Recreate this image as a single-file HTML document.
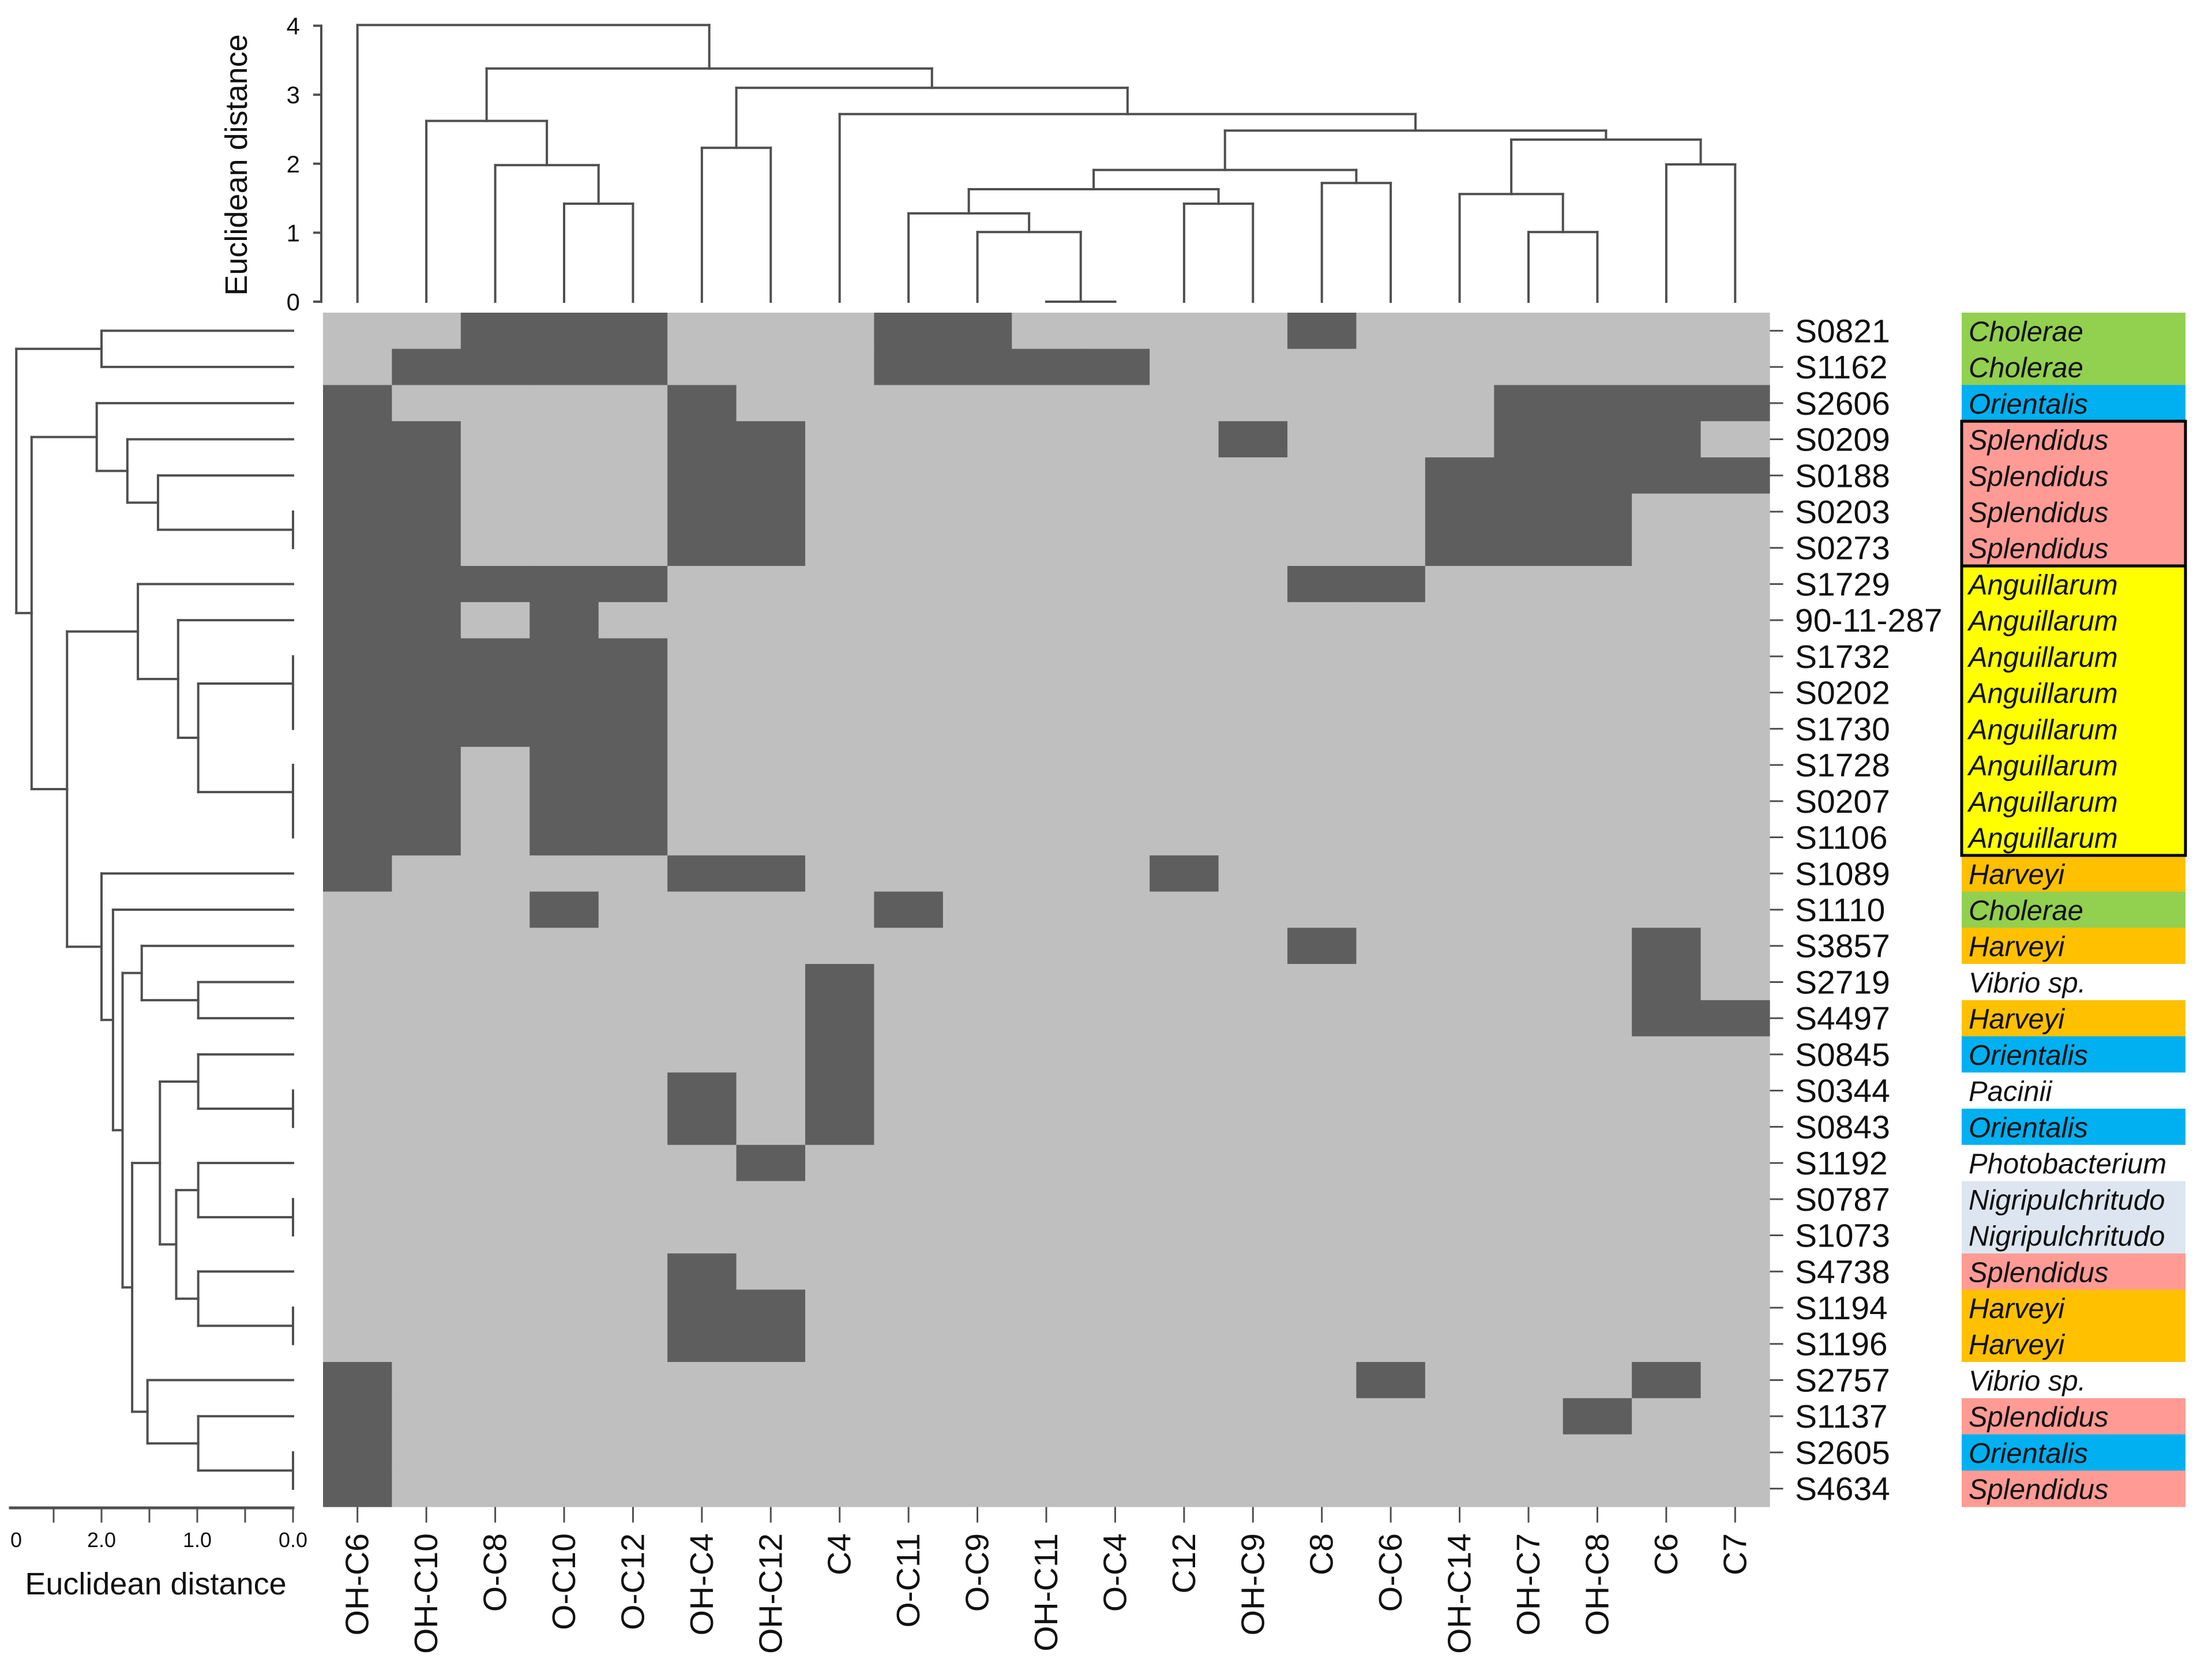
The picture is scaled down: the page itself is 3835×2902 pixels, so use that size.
<!DOCTYPE html>
<html><head><meta charset="utf-8"><title>Heatmap with dendrograms</title>
<style>
html,body{margin:0;padding:0;background:#fff;}
svg{display:block;}
text{font-family:"Liberation Sans",sans-serif;fill:#111;}
</style></head>
<body>
<svg id="chart" width="3835" height="2902" viewBox="0 0 3835 2902" xmlns="http://www.w3.org/2000/svg"></svg>
<script>
const colLabels = ["OH-C6","OH-C10","O-C8","O-C10","O-C12","OH-C4","OH-C12","C4","O-C11","O-C9","OH-C11","O-C4","C12","OH-C9","C8","O-C6","OH-C14","OH-C7","OH-C8","C6","C7"];
const rowLabels = ["S0821","S1162","S2606","S0209","S0188","S0203","S0273","S1729","90-11-287","S1732","S0202","S1730","S1728","S0207","S1106","S1089","S1110","S3857","S2719","S4497","S0845","S0344","S0843","S1192","S0787","S1073","S4738","S1194","S1196","S2757","S1137","S2605","S4634"];
const rowSpecies = ["Cholerae","Cholerae","Orientalis","Splendidus","Splendidus","Splendidus","Splendidus","Anguillarum","Anguillarum","Anguillarum","Anguillarum","Anguillarum","Anguillarum","Anguillarum","Anguillarum","Harveyi","Cholerae","Harveyi","Vibrio sp.","Harveyi","Orientalis","Pacinii","Orientalis","Photobacterium","Nigripulchritudo","Nigripulchritudo","Splendidus","Harveyi","Harveyi","Vibrio sp.","Splendidus","Orientalis","Splendidus"];
const speciesColors = {"Cholerae":"#92d050","Orientalis":"#00b0f0","Splendidus":"#ff9b94","Anguillarum":"#ffff00","Harveyi":"#ffc000","Vibrio sp.":"#ffffff","Pacinii":"#ffffff","Photobacterium":"#ffffff","Nigripulchritudo":"#dde6f0"};
const darkCells = [
[2,3,4,8,9,14],
[1,2,3,4,8,9,10,11],
[0,5,17,18,19,20],
[0,1,5,6,13,17,18,19],
[0,1,5,6,16,17,18,19,20],
[0,1,5,6,16,17,18],
[0,1,5,6,16,17,18],
[0,1,2,3,4,14,15],
[0,1,3],
[0,1,2,3,4],
[0,1,2,3,4],
[0,1,2,3,4],
[0,1,3,4],
[0,1,3,4],
[0,1,3,4],
[0,5,6,12],
[3,8],
[14,19],
[7,19],
[7,19,20],
[7],
[5,7],
[5,7],
[6],
[],
[],
[5],
[5,6],
[5,6],
[0,15,19],
[0,18],
[0],
[0]];
const topTree = [4.01, 0, [3.38, [2.62, 1, [1.98, 2, [1.42, 3, 4]]], [3.10, [2.23, 5, 6], [2.72, 7, [2.48, [1.91, [1.63, [1.28, 8, [1.01, 9, [0, 10, 11]]], [1.42, 12, 13]], [1.72, 14, 15]], [2.35, [1.56, 16, [1.01, 17, 18]], [1.99, 19, 20]]]]]]];
const rowTree = [2.89, [2.0, 0, 1], [2.73, [2.05, 2, [1.73, 3, [1.41, 4, [0, 5, 6]]]], [2.36, [1.62, 7, [1.2, 8, [0.99, [0, 9, [0, 10, 11]], [0, 12, [0, 13, 14]]]]], [2.0, 15, [1.88, 16, [1.78, [1.58, 17, [0.99, 18, 19]], [1.68, [1.39, [0.99, 20, [0, 21, 22]], [1.22, [0.99, 23, [0, 24, 25]], [0.99, 26, [0, 27, 28]]]], [1.52, 29, [0.99, 30, [0, 31, 32]]]]]]]]]];
const topTicks = [0,1,2,3,4];
const leftTicks = [0,0.5,1,1.5,2,2.5,3];
const leftTickLabels = ["0.0","","1.0","","2.0","","0"];
const boxedGroups = [[3,6],[7,14]];

const NS = "http://www.w3.org/2000/svg";
const svg = document.getElementById("chart");
const X0 = 560, X1 = 3068, Y0 = 542, Y1 = 2612;
const cw = (X1 - X0) / colLabels.length, ch = (Y1 - Y0) / rowLabels.length;
const colX = i => X0 + cw * (i + 0.5);
const rowY = i => Y0 + ch * (i + 0.5);
const topY = d => 523 - 119.6 * d;
const leftX = d => 508 - 166 * d;
const LC = "#4f4f4f";

function mk(tag, attrs, parent) {
  const e = document.createElementNS(NS, tag);
  for (const k in attrs) e.setAttribute(k, attrs[k]);
  (parent || svg).appendChild(e);
  return e;
}
function line(x1, y1, x2, y2, g, w) {
  const l = mk("line", {x1, y1, x2, y2, stroke: LC, "stroke-width": w || 4, "stroke-linecap": "square"}, g);
  return l;
}

// heatmap
const hm = mk("g", {});


rowLabels.forEach((r, ri) => {
  colLabels.forEach((c, ci) => {
    const dark = darkCells[ri].indexOf(ci) >= 0;
    const rc = mk("rect", {x: X0 + ci * cw, y: Y0 + ri * ch, width: cw + 0.6, height: ch + 0.6, fill: dark ? "#5e5e5e" : "#bfbfbf"}, hm);
    
    
  });
});

// column labels + ticks
colLabels.forEach((c, ci) => {
  const x = colX(ci);
  const tk = line(x, Y1 + 2, x, 2638, null, 3);
  
  
  const t = mk("text", {x: 0, y: 0, "font-size": 57, "text-anchor": "end", "dominant-baseline": "central", transform: `translate(${x},2658) rotate(-90)`});
  t.textContent = c;
  
  
});

// row labels, ticks, species
rowLabels.forEach((r, ri) => {
  const y = rowY(ri);
  const tk = line(3070, y, 3090, y, null, 3);
  
  
  const t = mk("text", {x: 3112, y: y + 20, "font-size": 57});
  t.textContent = r;
  
  
  const sp = rowSpecies[ri];
  const bx = mk("rect", {x: 3401, y: Y0 + ri * ch, width: 388, height: ch + 0.6, fill: speciesColors[sp]});
  
  
  const st = mk("text", {x: 3413, y: y + 18, "font-size": 49, "font-style": "italic"});
  st.textContent = sp;
  
  
});
boxedGroups.forEach(g => {
  const b = mk("rect", {x: 3401, y: Y0 + g[0] * ch, width: 388, height: (g[1] - g[0] + 1) * ch, fill: "none", stroke: "#000", "stroke-width": 5});
  
  
});

// top dendrogram
const tg = mk("g", {});


function drawTop(n) {
  if (typeof n === "number") return {x: colX(n), h: 0};
  const a = drawTop(n[1]), b = drawTop(n[2]), y = topY(n[0]);
  line(a.x, topY(a.h), a.x, y, tg);
  line(b.x, topY(b.h), b.x, y, tg);
  line(a.x, y, b.x, y, tg);
  return {x: (a.x + b.x) / 2, h: n[0]};
}
drawTop(topTree);
const ta = line(557, topY(4), 557, topY(0), null, 4);


topTicks.forEach(v => {
  const tk = line(545, topY(v), 557, topY(v), null, 4);
  
  
  const t = mk("text", {x: 520, y: topY(v) + 15, "font-size": 42, "text-anchor": "end"});
  t.textContent = v;
  
  
});
const tt = mk("text", {x: 0, y: 0, "font-size": 54, "text-anchor": "middle", "dominant-baseline": "central", transform: "translate(410,286) rotate(-90)"});
tt.textContent = "Euclidean distance";



// left dendrogram
const lg = mk("g", {});


function drawLeft(n) {
  if (typeof n === "number") return {y: rowY(n), h: 0};
  const a = drawLeft(n[1]), b = drawLeft(n[2]), x = leftX(n[0]);
  line(leftX(a.h), a.y, x, a.y, lg);
  line(leftX(b.h), b.y, x, b.y, lg);
  line(x, a.y, x, b.y, lg);
  return {y: (a.y + b.y) / 2, h: n[0]};
}
drawLeft(rowTree);
const la = line(18, 2614, 508, 2614, null, 5);


leftTicks.forEach((v, i) => {
  const x = leftX(v);
  if (x < 15) return;
  const tk = line(x, 2614, x, 2638, null, 3);
  
  
});
leftTickLabels.forEach((s, i) => {
  if (!s) return;
  const x = Math.max(leftX(leftTicks[i]), 28);
  const t = mk("text", {x: x, y: 2682, "font-size": 36, "text-anchor": "middle"});
  t.textContent = s;
  
  
});
const lt = mk("text", {x: 270, y: 2764, "font-size": 54, "text-anchor": "middle"});
lt.textContent = "Euclidean distance";


</script>
</body></html>
